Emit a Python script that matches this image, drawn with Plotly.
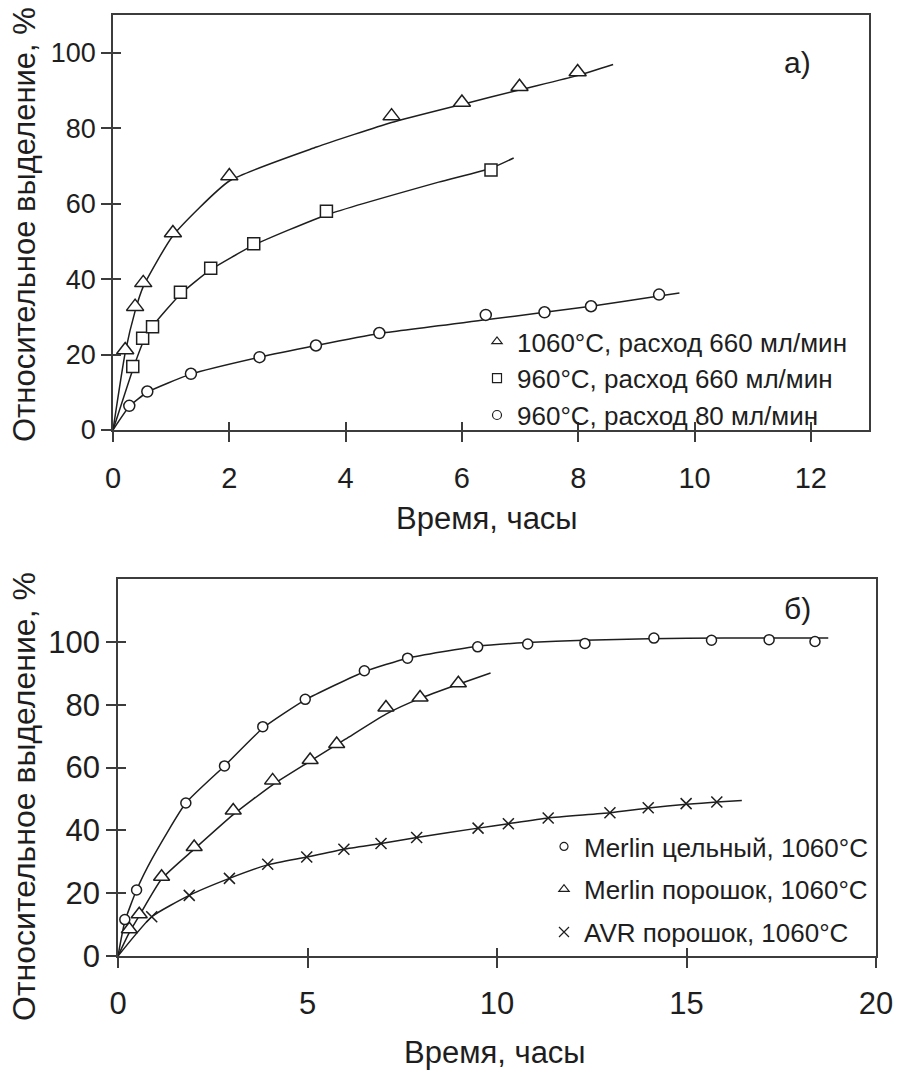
import plotly.graph_objects as go

# ---------------- Panel а) ----------------
a_tri_x = [0.21, 0.38, 0.52, 1.03, 2.0, 4.79, 6.0, 6.99, 7.99]
a_tri_y = [21.2, 32.7, 39.0, 52.2, 67.3, 83.2, 86.8, 91.0, 94.9]
a_tri_cx = [0, 0.21, 0.38, 0.52, 1.03, 2.0, 3.5, 4.79, 6.0, 7.0, 8.0, 8.6]
a_tri_cy = [0, 20.5, 31.5, 38.0, 51.5, 66.0, 75.0, 81.5, 86.3, 90.2, 94.0, 96.9]

a_sq_x = [0.34, 0.51, 0.68, 1.16, 1.68, 2.42, 3.67, 6.50]
a_sq_y = [16.8, 24.3, 27.4, 36.5, 42.9, 49.4, 58.0, 68.9]
a_sq_cx = [0, 0.34, 0.51, 0.68, 1.16, 1.68, 2.42, 3.67, 5.6, 6.5, 6.89]
a_sq_cy = [0, 16.0, 23.0, 27.5, 36.0, 42.5, 49.0, 57.0, 65.7, 69.4, 72.1]

a_ci_x = [0.28, 0.59, 1.34, 2.52, 3.49, 4.58, 6.41, 7.42, 8.22, 9.39]
a_ci_y = [6.4, 10.2, 14.9, 19.3, 22.4, 25.7, 30.5, 31.2, 32.8, 35.9]
a_ci_cx = [0, 0.28, 0.59, 1.34, 2.52, 3.49, 4.58, 6.41, 7.42, 8.22, 9.39, 9.74]
a_ci_cy = [0, 6.2, 10.0, 14.8, 19.3, 22.4, 25.6, 29.2, 31.2, 32.8, 35.5, 36.3]

a_names = ["1060°C, расход 660 мл/мин", "960°C, расход 660 мл/мин", "960°C, расход 80 мл/мин"]
a_xticks = [0, 2, 4, 6, 8, 10, 12]
a_yticks = [0, 20, 40, 60, 80, 100]

# ---------------- Panel б) ----------------
b_ci_x = [0.18, 0.49, 1.79, 2.81, 3.82, 4.94, 6.50, 7.64, 9.49, 10.81, 12.32, 14.14, 15.66, 17.18, 18.39]
b_ci_y = [11.6, 21.0, 48.7, 60.5, 73.0, 81.7, 90.8, 94.8, 98.4, 99.3, 99.5, 101.2, 100.5, 100.7, 100.1]
b_ci_cx = [0, 0.18, 0.49, 0.9, 1.79, 2.81, 3.82, 4.94, 6.5, 7.64, 9.49, 10.8, 12.3, 14.0, 16.0, 18.74]
b_ci_cy = [0, 11.0, 21.0, 31.0, 48.7, 60.5, 72.5, 81.5, 90.5, 94.8, 98.6, 99.8, 100.5, 101.0, 101.2, 101.2]

b_tri_x = [0.30, 0.56, 1.15, 2.01, 3.04, 4.08, 5.07, 5.77, 7.07, 7.97, 8.98]
b_tri_y = [8.5, 13.3, 25.2, 34.7, 46.3, 55.9, 62.4, 67.5, 79.1, 82.3, 86.8]
b_tri_cx = [0, 0.30, 0.56, 1.15, 2.01, 3.04, 4.08, 5.07, 6.0, 7.07, 7.97, 8.98, 9.83]
b_tri_cy = [0, 7.5, 12.8, 24.5, 34.0, 45.0, 54.5, 62.0, 69.0, 77.0, 82.0, 86.5, 90.1]

b_x_x = [0.89, 1.88, 2.94, 3.95, 4.98, 5.96, 6.94, 7.88, 9.50, 10.30, 11.35, 12.98, 13.99, 14.99, 15.80]
b_x_y = [12.5, 19.3, 24.7, 29.2, 31.5, 34.0, 35.8, 37.7, 40.7, 42.1, 43.9, 45.6, 47.2, 48.5, 49.0]
b_x_cx = [0, 0.89, 1.88, 2.94, 3.95, 4.98, 5.96, 6.94, 7.88, 9.5, 10.3, 11.35, 12.98, 14.0, 15.0, 15.8, 16.46]
b_x_cy = [0, 12.5, 19.3, 24.7, 29.0, 31.5, 34.0, 35.8, 37.7, 40.7, 42.1, 43.9, 45.6, 47.1, 48.3, 49.0, 49.5]

b_names = ["Merlin цельный, 1060°C", "Merlin порошок, 1060°C", "AVR порошок, 1060°C"]
b_xticks = [0, 5, 10, 15, 20]
b_yticks = [0, 20, 40, 60, 80, 100]

FONT = "Liberation Sans, Arial, sans-serif"
INK = "#1e1e1e"
AX = "#3c3c3c"
W, H = 897, 1079


def px(p):
    return p / W


def py(p):
    return 1 - p / H


fig = go.Figure()


def add_series(cx, cy, mx, my, symbol, size, name, xa, ya, legend, lsize, group):
    fig.add_trace(go.Scatter(x=cx, y=cy, mode="lines", line=dict(color=INK, width=1.5, shape="spline", smoothing=0.5),
                             xaxis=xa, yaxis=ya, showlegend=False, hoverinfo="skip"))
    filled = symbol != "x-thin"
    fig.add_trace(go.Scatter(x=mx, y=my, mode="markers", name=name, xaxis=xa, yaxis=ya, showlegend=False,
                             marker=dict(symbol=symbol, size=size, color="white" if filled else INK,
                                         line=dict(color=INK, width=1.5))))
    fig.add_trace(go.Scatter(x=[None], y=[None], mode="markers", name=name, xaxis=xa, yaxis=ya, legend=legend,
                             legendgroup=group,
                             marker=dict(symbol=symbol, size=lsize, color="white" if filled else INK,
                                         line=dict(color=INK, width=1.2))))


add_series(a_tri_cx, a_tri_cy, a_tri_x, a_tri_y, "triangle-up", 15, a_names[0], "x", "y", "legend", 9, "a1")
add_series(a_sq_cx, a_sq_cy, a_sq_x, a_sq_y, "square", 12, a_names[1], "x", "y", "legend", 9, "a2")
add_series(a_ci_cx, a_ci_cy, a_ci_x, a_ci_y, "circle", 11, a_names[2], "x", "y", "legend", 9, "a3")

add_series(b_ci_cx, b_ci_cy, b_ci_x, b_ci_y, "circle", 10, b_names[0], "x2", "y2", "legend2", 8, "b1")
add_series(b_tri_cx, b_tri_cy, b_tri_x, b_tri_y, "triangle-up", 14, b_names[1], "x2", "y2", "legend2", 9, "b2")
add_series(b_x_cx, b_x_cy, b_x_x, b_x_y, "x-thin", 11, b_names[2], "x2", "y2", "legend2", 10, "b3")

fig.add_trace(go.Scatter(x=[None], y=[None], xaxis="x3", yaxis="y3", showlegend=False, hoverinfo="skip"))
fig.add_trace(go.Scatter(x=[None], y=[None], xaxis="x4", yaxis="y4", showlegend=False, hoverinfo="skip"))

dom_a_x = [px(113), px(869)]
dom_a_y = [py(430), py(15)]
dom_b_x = [px(118), px(876)]
dom_b_y = [py(956), py(579)]

base = dict(showgrid=False, zeroline=False, showline=True, linecolor=AX, linewidth=1.5, mirror=True,
            ticks="outside", ticklen=10, tickwidth=1.5, tickcolor=AX, fixedrange=True, automargin=False)
inner = dict(showgrid=False, zeroline=False, showline=False, ticks="inside", ticklen=8, tickwidth=1.5,
             tickcolor=AX, showticklabels=False, fixedrange=True, automargin=False)

ann = dict(xref="paper", yref="paper", showarrow=False, xanchor="center", yanchor="middle")

fig.update_layout(
    template="none",
    width=W, height=H, margin=dict(l=0, r=0, t=0, b=0, autoexpand=False),
    paper_bgcolor="white", plot_bgcolor="white",
    font=dict(family=FONT, color=INK),
    xaxis=dict(domain=dom_a_x, anchor="y", range=[0, 13], tickvals=a_xticks, tickfont=dict(size=29),
               ticklabelstandoff=11, **base),
    yaxis=dict(domain=dom_a_y, anchor="x", range=[0, 110], tickvals=a_yticks, tickfont=dict(size=27),
               ticksuffix="\u2009\u2009", **base),
    xaxis2=dict(domain=dom_b_x, anchor="y2", range=[0, 20], tickvals=b_xticks, tickfont=dict(size=31),
                ticklabelstandoff=9, **base),
    yaxis2=dict(domain=dom_b_y, anchor="x2", range=[0, 120], tickvals=b_yticks, tickfont=dict(size=31),
                ticksuffix="\u00a0", **base),
    xaxis3=dict(overlaying="x", anchor="y3", side="bottom", range=[0, 13], tickvals=a_xticks, **inner),
    yaxis3=dict(overlaying="y", anchor="x3", side="left", range=[0, 110], tickvals=a_yticks, **inner),
    xaxis4=dict(overlaying="x2", anchor="y4", side="bottom", range=[0, 20], tickvals=b_xticks, **inner),
    yaxis4=dict(overlaying="y2", anchor="x4", side="left", range=[0, 120], tickvals=b_yticks, **inner),
    legend=dict(x=px(853), xanchor="right", y=py(318), yanchor="top", bgcolor="rgba(0,0,0,0)",
                font=dict(size=26, color=INK), itemwidth=30, tracegroupgap=0),
    legend2=dict(x=px(873), xanchor="right", y=py(823), yanchor="top", bgcolor="rgba(0,0,0,0)",
                 font=dict(size=26, color=INK), itemwidth=30, tracegroupgap=6),
    annotations=[
        dict(text="а)", x=px(797), y=py(62), font=dict(size=30, color=INK), **ann),
        dict(text="б)", x=px(797), y=py(608), font=dict(size=30, color=INK), **ann),
        dict(text="Время, часы", x=px(487), y=py(518), font=dict(size=31, color=INK), **ann),
        dict(text="Время, часы", x=px(495), y=py(1052), font=dict(size=31, color=INK), **ann),
        dict(text="Относительное выделение, %", x=px(24), y=py(225), textangle=-90,
             font=dict(size=31, color=INK), **ann),
        dict(text="Относительное выделение, %", x=px(24), y=py(797), textangle=-90,
             font=dict(size=32, color=INK), **ann),
    ],
)

fig.write_html("out.html",
               post_script="document.body.style.margin='0';document.body.style.overflow='hidden';")
